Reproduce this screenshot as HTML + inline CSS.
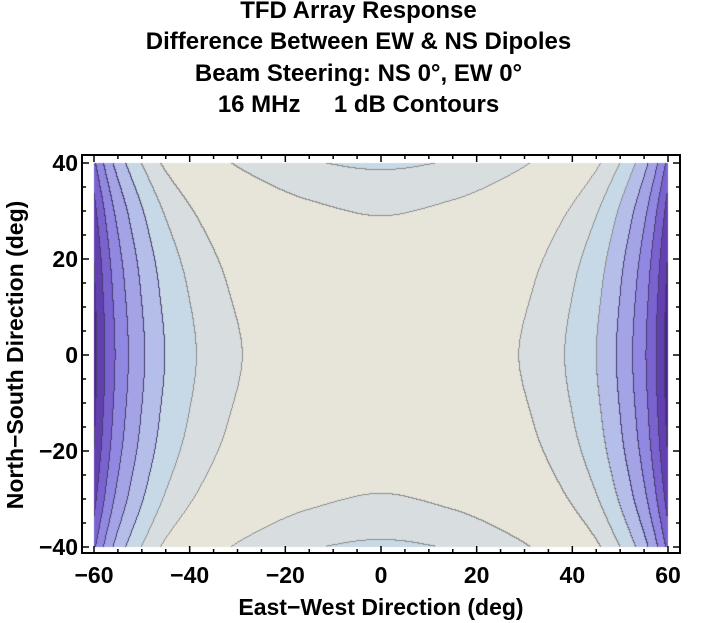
<!DOCTYPE html>
<html><head><meta charset="utf-8"><style>
body{margin:0;background:#fff;width:717px;height:623px;overflow:hidden;font-family:"Liberation Sans",sans-serif}
.t{position:absolute;left:0;width:717px;text-align:center;font-weight:bold;font-size:24px;color:#000;line-height:28px}
</style></head><body>
<div class="t" style="top:-3px">TFD Array Response</div>
<div class="t" style="top:28px">Difference Between EW &amp; NS Dipoles</div>
<div class="t" style="top:60px">Beam Steering: NS 0°, EW 0°</div>
<div class="t" style="top:91px;white-space:pre">16 MHz     1 dB Contours</div>
<canvas id="c" width="717" height="623" style="position:absolute;left:0;top:0"></canvas>
<svg id="s" width="717" height="623" style="position:absolute;left:0;top:0"></svg>
<script>
// data: angle (deg) -> response drop (dB) profile
const angleBreaks = [0, 15, 28.9, 38.5, 45.1, 49.3, 52.7, 55.5, 57.6, 59.3, 60, 62];
const dropValues  = [0, 0.28, 1, 2, 3, 4, 5, 6, 7, 8, 8.5, 9.8];
const xTicks = [-60, -40, -20, 0, 20, 40, 60];
const yTicks = [-40, -20, 0, 20, 40];
const bandColors = ["#e7e5d9","#d8dee0","#c7d9e6","#b4bee8","#a3a3e5","#9188e1","#7a62cf","#6240b0","#4a2490","#3d1880"];

const X0=94,X1=668,Y0=547,Y1=163;
const xs=v=>X0+(v+60)/120*(X1-X0);
const ys=v=>Y0-(v+40)/80*(Y0-Y1);
// monotone cubic interpolation
const n=angleBreaks.length,dl=[],m=[];
for(let i=0;i<n-1;i++)dl.push((dropValues[i+1]-dropValues[i])/(angleBreaks[i+1]-angleBreaks[i]));
m.push(0);
for(let i=1;i<n-1;i++){m.push(dl[i-1]*dl[i]<=0?0:2/(1/dl[i-1]+1/dl[i]));}
m.push(dl[n-2]);
function g(a){a=Math.abs(a);for(let i=1;i<n;i++){if(a<=angleBreaks[i]){const h=angleBreaks[i]-angleBreaks[i-1],t=(a-angleBreaks[i-1])/h;
 const t2=t*t,t3=t2*t;return (2*t3-3*t2+1)*dropValues[i-1]+(t3-2*t2+t)*h*m[i-1]+(-2*t3+3*t2)*dropValues[i]+(t3-t2)*h*m[i];}}return dropValues[n-1];}
function f(x,y){return Math.abs(g(x)-g(y));}
const cv=document.getElementById('c'),ctx=cv.getContext('2d');
const W=X1-X0,H=Y0-Y1;
const img=ctx.createImageData(W,H);
const lev=[];
for(let j=0;j<H;j++){lev.push([]);for(let i=0;i<W;i++){const x=-60+(i+0.5)/W*120,y=40-(j+0.5)/H*80;lev[j].push(Math.floor(f(x,y)));}}
function hex(h){return [parseInt(h.substr(1,2),16),parseInt(h.substr(3,2),16),parseInt(h.substr(5,2),16)];}
const cols=bandColors.map(hex);
for(let j=0;j<H;j++)for(let i=0;i<W;i++){
 const L=lev[j][i];let c=cols[Math.min(L,cols.length-1)];
 const edge=(i+1<W&&lev[j][i+1]!==L)||(j+1<H&&lev[j+1][i]!==L);
 if(edge){c=L>=3?[70,60,110]:[140,140,140];}
 const k=(j*W+i)*4;img.data[k]=c[0];img.data[k+1]=c[1];img.data[k+2]=c[2];img.data[k+3]=255;}
ctx.putImageData(img,X0,Y1);
const s=document.getElementById('s');const NS="http://www.w3.org/2000/svg";
function el(t,a){const e=document.createElementNS(NS,t);for(const k in a)e.setAttribute(k,a[k]);s.appendChild(e);return e;}
const fr=el('rect',{x:82,y:155,width:598,height:398,fill:'none',stroke:'#000','stroke-width':2});


for(let v=-60;v<=60;v+=5){const big=v%20===0;const x=xs(v);
 el('line',{x1:x,x2:x,y1:553,y2:553-(big?7:4),stroke:'#000','stroke-width':1.5});
 el('line',{x1:x,x2:x,y1:155,y2:155+(big?7:4),stroke:'#000','stroke-width':1.5});}
for(let v=-40;v<=40;v+=5){const big=v%20===0;const y=ys(v);
 el('line',{x1:82,x2:82+(big?7:4),y1:y,y2:y,stroke:'#000','stroke-width':1.5});
 el('line',{x1:680,x2:680-(big?7:4),y1:y,y2:y,stroke:'#000','stroke-width':1.5});}
xTicks.forEach(v=>{const t=el('text',{x:xs(v),y:583,'text-anchor':'middle','font-size':23,'font-weight':'bold','font-family':'Liberation Sans'});t.textContent=(v<0?'\u2212'+(-v):v);
 
 });
yTicks.forEach(v=>{const t=el('text',{x:78,y:ys(v)+8,'text-anchor':'end','font-size':23,'font-weight':'bold','font-family':'Liberation Sans'});t.textContent=(v<0?'\u2212'+(-v):v);
 
 });
const xt=el('text',{x:381,y:615,'text-anchor':'middle','font-size':23,'font-weight':'bold','font-family':'Liberation Sans'});xt.textContent='East\u2212West Direction (deg)';


const yt=el('text',{x:0,y:0,'text-anchor':'middle','font-size':23,'font-weight':'bold','font-family':'Liberation Sans',transform:'translate(23,355) rotate(-90)'});yt.textContent='North\u2212South Direction (deg)';


</script>
</body></html>
